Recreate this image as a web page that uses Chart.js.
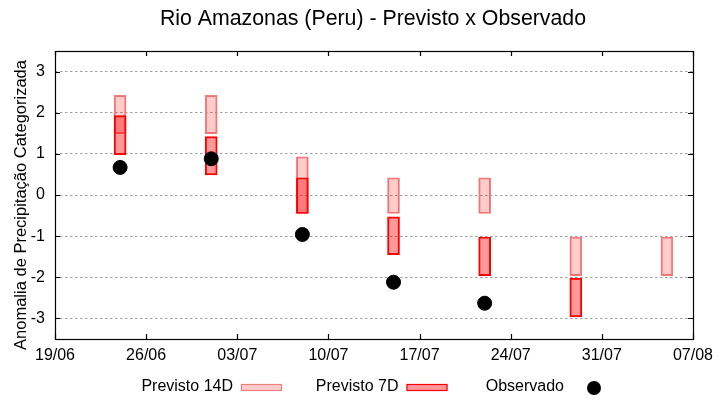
<!DOCTYPE html>
<html lang="pt">
<head>
<meta charset="UTF-8" />
<title>Rio Amazonas (Peru) - Previsto x Observado</title>
<script src="https://cdn.jsdelivr.net/npm/chart.js"></script>
<style>
  body { margin: 0; background: #fff; }
  #wrap { width: 720px; height: 400px; }
</style>
</head>
<body>
<div id="wrap"><canvas id="chart" width="720" height="400"></canvas></div>
<script>
// dados
const startDate = '19/06';
const xTickLabels = ['19/06', '26/06', '03/07', '10/07', '17/07', '24/07', '31/07', '07/08'];
const yTickValues = [-3, -2, -1, 0, 1, 2, 3];
const dates = ['24/06', '01/07', '08/07', '15/07', '22/07', '29/07', '05/08'];
const prev14Lo = [1.49, 1.49, -0.45, -0.45, -0.45, -1.96, -1.96];
const prev14Hi = [2.42, 2.42, 0.93, 0.42, 0.42, -1.02, -1.02];
const prev7Lo = [0.98, 0.49, -0.45, -1.45, -1.96, -2.96, null];
const prev7Hi = [1.93, 1.42, 0.42, -0.53, -1.02, -2.02, null];
const observed = [0.67, 0.88, -0.96, -2.12, -2.63, null, null];
const chartTitle = 'Rio Amazonas (Peru) - Previsto x Observado';
const yTitle = 'Anomalia de Precipitação Categorizada';

// dd/mm -> dias desde o inicio
function dayIndex(s) {
  const [d, m] = s.split('/').map(Number);
  const [d0, m0] = startDate.split('/').map(Number);
  return (Date.UTC(2023, m - 1, d) - Date.UTC(2023, m0 - 1, d0)) / 86400000;
}
function dayLabel(v) {
  const [d0, m0] = startDate.split('/').map(Number);
  const dt = new Date(Date.UTC(2023, m0 - 1, d0) + v * 86400000);
  return String(dt.getUTCDate()).padStart(2, '0') + '/' + String(dt.getUTCMonth() + 1).padStart(2, '0');
}

function floating(lo, hi) {
  const out = [];
  dates.forEach((d, i) => {
    if (lo[i] !== null && hi[i] !== null) out.push({ x: dayIndex(d), y: [lo[i], hi[i]] });
  });
  return out;
}
const obsPoints = [];
dates.forEach((d, i) => { if (observed[i] !== null) obsPoints.push({ x: dayIndex(d), y: observed[i] }); });

const FONT = 'Liberation Sans, Arial, sans-serif';

// moldura estilo gnuplot com ticks para dentro
const framePlugin = {
  id: 'frame',
  afterDatasetsDraw(chart) {
    const { ctx, chartArea: a, scales } = chart;
    ctx.save();
    ctx.strokeStyle = '#000';
    ctx.lineWidth = 1.2;
    ctx.beginPath();
    scales.x.ticks.forEach(t => {
      const px = Math.round(scales.x.getPixelForValue(t.value)) + 0.5;
      ctx.moveTo(px, a.bottom); ctx.lineTo(px, a.bottom - 5);
      ctx.moveTo(px, a.top); ctx.lineTo(px, a.top + 5);
    });
    scales.y.ticks.forEach(t => {
      const py = Math.round(scales.y.getPixelForValue(t.value)) + 0.5;
      ctx.moveTo(a.left, py); ctx.lineTo(a.left + 5, py);
      ctx.moveTo(a.right, py); ctx.lineTo(a.right - 5, py);
    });
    ctx.stroke();
    ctx.strokeRect(Math.round(a.left) + 0.5, Math.round(a.top) + 0.5,
      Math.round(a.right - a.left), Math.round(a.bottom - a.top));
    ctx.restore();
  }
};

// titulo, legenda (texto a direita, amostra depois) e titulo do eixo y
const keyPlugin = {
  id: 'key',
  afterDraw(chart) {
    const { ctx } = chart;
    const y = 388;
    ctx.save();
    ctx.fillStyle = '#000';
    ctx.textAlign = 'center';
    ctx.textBaseline = 'middle';
    ctx.font = '21.3px ' + FONT;
    ctx.fillText(chartTitle, 373, 19);

    ctx.font = '16px ' + FONT;
    ctx.textAlign = 'right';
    chart.data.datasets.forEach((ds, i) => {
      const end = 233 + 165.5 * i;
      ctx.fillStyle = '#000';
      ctx.fillText(ds.label, end, y - 1);
      if (ds.type === 'scatter') {
        ctx.beginPath();
        ctx.arc(end + 30, y, 7, 0, Math.PI * 2);
        ctx.fillStyle = ds.backgroundColor;
        ctx.fill();
      } else {
        ctx.fillStyle = ds.backgroundColor;
        ctx.fillRect(end + 8, y - 4, 41, 7);
        ctx.strokeStyle = ds.borderColor;
        ctx.lineWidth = 1.2;
        ctx.strokeRect(end + 8.5, y - 3.5, 40, 6);
      }
    });
    ctx.translate(21, 205);
    ctx.rotate(-Math.PI / 2);
    ctx.textAlign = 'center';
    ctx.fillStyle = '#000';
    ctx.font = '16.5px ' + FONT;
    ctx.fillText(yTitle, 0, 0);
    ctx.restore();
  }
};

new Chart(document.getElementById('chart'), {
  type: 'bar',
  data: {
    datasets: [
      {
        label: 'Previsto 14D',
        data: floating(prev14Lo, prev14Hi),
        backgroundColor: 'rgba(255, 0, 0, 0.2)',
        borderColor: 'rgb(240, 128, 128)',
        borderWidth: 1.3,
        borderSkipped: false,
        barThickness: 12,
        grouped: false,
        order: 2
      },
      {
        label: 'Previsto 7D',
        data: floating(prev7Lo, prev7Hi),
        backgroundColor: 'rgba(255, 0, 0, 0.4)',
        borderColor: '#ff0000',
        borderWidth: 1.3,
        borderSkipped: false,
        barThickness: 12,
        grouped: false,
        order: 1
      },
      {
        type: 'scatter',
        label: 'Observado',
        data: obsPoints,
        backgroundColor: '#000',
        borderColor: '#000',
        pointRadius: 7,
        pointHoverRadius: 7,
        order: 0
      }
    ]
  },
  options: {
    responsive: false,
    animation: false,
    layout: { padding: { left: 0, right: 27, top: 51, bottom: 0 } },
    plugins: {
      legend: { display: false },
      tooltip: { enabled: false },
      title: { display: false }
    },
    scales: {
      x: {
        type: 'linear',
        offset: false,
        min: 0,
        max: dayIndex(xTickLabels[xTickLabels.length - 1]),
        afterBuildTicks: s => { s.ticks = xTickLabels.map(l => ({ value: dayIndex(l) })); },
        afterFit: s => { s.height = 61; },
        grid: { display: false, drawTicks: false, offset: false },
        border: { display: false },
        ticks: {
          autoSkip: false,
          maxRotation: 0,
          padding: 7,
          color: '#000',
          font: { family: FONT, size: 16 },
          callback: v => dayLabel(v)
        }
      },
      y: {
        min: -3.5,
        max: 3.5,
        afterBuildTicks: s => { s.ticks = yTickValues.map(v => ({ value: v })); },
        afterFit: s => { s.width = 55; },
        grid: { color: '#a0a0a0', lineWidth: 1, drawTicks: false },
        border: { display: false, dash: [2.5, 2.5] },
        ticks: {
          padding: 10,
          color: '#000',
          font: { family: FONT, size: 16 }
        }
      }
    }
  },
  plugins: [framePlugin, keyPlugin]
});
</script>
</body>
</html>
